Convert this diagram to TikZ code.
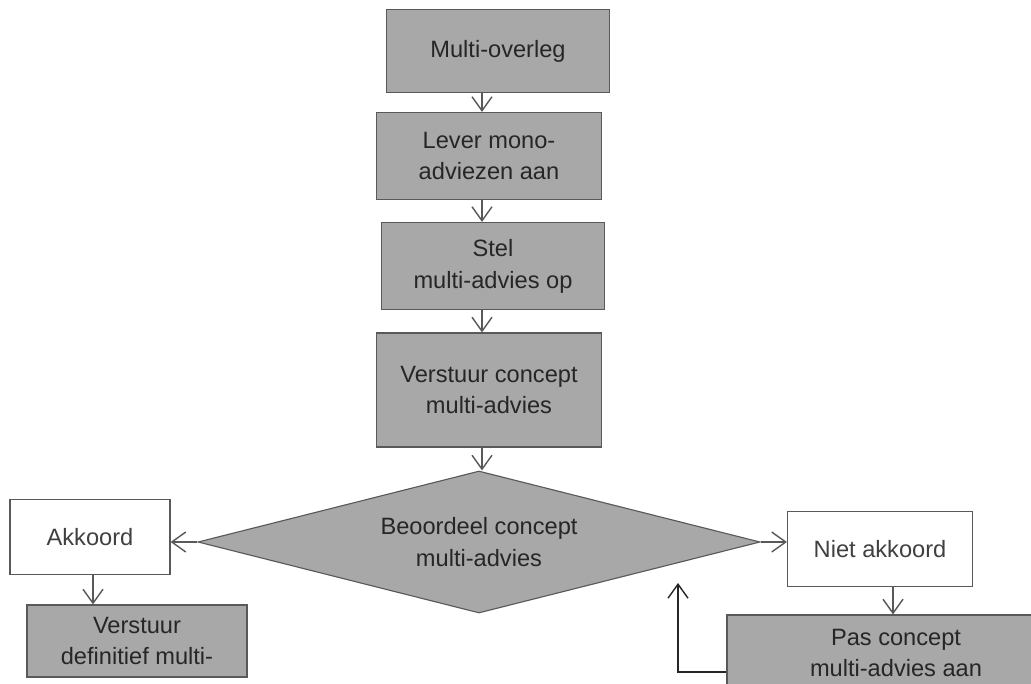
\documentclass[tikz,border=0pt]{standalone}
\usepackage{fontspec}
\setmainfont{Liberation Sans}
\usetikzlibrary{shapes.geometric,arrows.meta}
\begin{document}
\begin{tikzpicture}[x=0.025cm,y=-0.025cm,
  stap/.style={draw=black!65,line width=0.8pt,fill=black!34,text=black!85,align=center,inner sep=0pt,font=\fontsize{16.8}{22.6}\selectfont},
  keuze/.style={draw=black!65,line width=0.8pt,fill=white,text=black!75,inner sep=0pt,minimum height=1.875cm,font=\fontsize{16.8}{22.6}\selectfont},
  flow/.style={draw=black!65,line width=1pt,-{Straight Barb[length=3.5mm,width=5mm]}}]
  \clip (0,0) rectangle (1031,683);
  \fill[white] (0,0) rectangle (1031,683);
  % hoofdlijn
  \node[stap,minimum width=5.575cm,minimum height=2.075cm] (overleg) at (498,51) {Multi-overleg};
  \node[stap,minimum width=5.625cm,minimum height=2.175cm] (lever) at (489,156) {Lever mono-\\adviezen aan};
  \node[stap,minimum width=5.575cm,minimum height=2.175cm] (stel) at (493,266) {Stel\\multi-advies op};
  \node[stap,minimum width=5.625cm,minimum height=2.85cm] (concept) at (489,390) {Verstuur concept\\multi-advies};
  \node[stap,diamond,aspect=4,minimum width=14.05cm,minimum height=3.55cm] (beoordeel) at (479,542) {Beoordeel concept\\multi-advies};
  % uitkomsten
  \node[keuze,minimum width=4cm] (akkoord) at (90,537) {Akkoord};
  \node[keuze,minimum width=4.625cm] (niet) at (880,549) {Niet akkoord};
  \node[stap,minimum width=5.5cm,minimum height=1.8cm] (definitief) at (137,641) {Verstuur\\definitief multi-};
  \node[stap,minimum width=8.45cm,minimum height=1.9cm] (aanpas) at (896,653) {Pas concept\\multi-advies aan};
  \coordinate (spil) at (482,0);
  \coordinate (terug) at (678,583);
  \foreach \a/\b in {overleg/lever,lever/stel,stel/concept,concept/beoordeel}
    \draw[flow] (spil |- \a.south) -- (spil |- \b.north);
  \draw[flow] (beoordeel.west) -- (beoordeel.west -| akkoord.east);
  \draw[flow] (beoordeel.east) -- (beoordeel.east -| niet.west);
  \draw[flow] ([xshift=0.075cm]akkoord.south) -- ([xshift=0.075cm]akkoord.south |- definitief.north);
  \draw[flow] ([xshift=0.325cm]niet.south) -- ([xshift=0.325cm]niet.south |- aanpas.north);
  \draw[flow,draw=black!85] ([yshift=-0.475cm]aanpas.west) -| (terug);
\end{tikzpicture}
\end{document}
